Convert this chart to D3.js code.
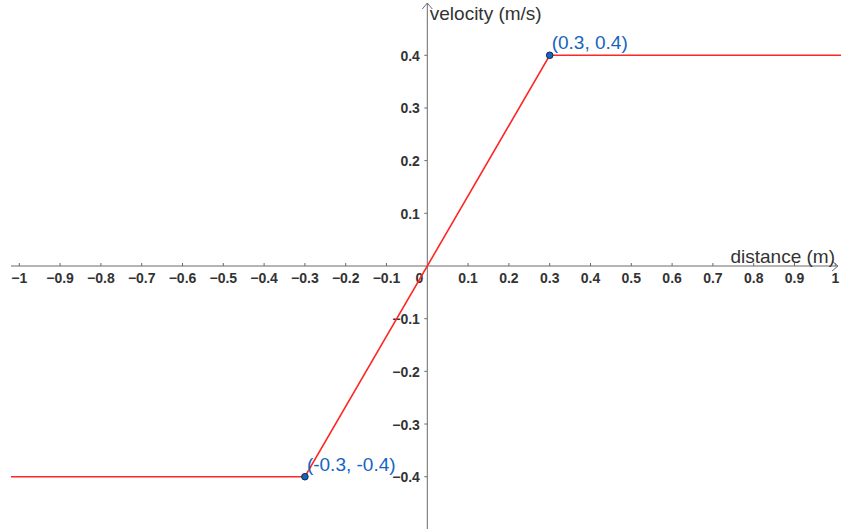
<!DOCTYPE html>
<html>
<head>
<meta charset="utf-8">
<script src="https://cdn.jsdelivr.net/npm/d3@7"></script>
<style>
  html, body { margin: 0; padding: 0; background: #fff; }
  svg { display: block; }
</style>
</head>
<body>
<svg id="chart" width="841" height="529"></svg>
<script>
// Piecewise velocity profile: constant, linear ramp, constant
const distance = [-1.05, -0.3, 0.3, 1.05];
const velocity = [-0.4, -0.4, 0.4, 0.4];

// Highlighted corner points and their labels
const pointX = [0.3, -0.3];
const pointY = [0.4, -0.4];
const pointLabels = ["(0.3, 0.4)", "(-0.3, -0.4)"];

const xTicks = [-1, -0.9, -0.8, -0.7, -0.6, -0.5, -0.4, -0.3, -0.2, -0.1, 0.1, 0.2, 0.3, 0.4, 0.5, 0.6, 0.7, 0.8, 0.9, 1];
const yTicks = [-0.4, -0.3, -0.2, -0.1, 0.1, 0.2, 0.3, 0.4];

const xTitle = "distance (m)";
const yTitle = "velocity (m/s)";

const W = 841, H = 529;
const svg = d3.select("#chart");

const x = d3.scaleLinear().domain([-1, 1]).range([19.3, 835.3]);
const y = d3.scaleLinear().domain([-0.4, 0.4]).range([476.7, 55.3]);

const x0 = x(0), y0 = y(0);
const axisColor = "#6b6b6b";
const textColor = "#333333";
const font = "Liberation Sans, Arial, sans-serif";
const tickSize = 14;
const titleSize = 19;
const fmt = v => (v < 0 ? "\u2212" : "") + d3.format(".1~f")(Math.abs(v));

// clip region for the plotted line
svg.append("defs").append("clipPath").attr("id", "plotClip")
  .append("rect").attr("x", 11).attr("y", 0).attr("width", W - 11).attr("height", H);

// x axis
const gx = svg.append("g");
gx.append("line").attr("x1", 11).attr("x2", W - 3).attr("y1", y0).attr("y2", y0)
  .attr("stroke", axisColor).attr("stroke-width", 1);
gx.append("path")
  .attr("d", `M${W - 9},${y0 - 5} L${W - 3},${y0} L${W - 9},${y0 + 5}`)
  .attr("fill", "none").attr("stroke", axisColor).attr("stroke-width", 1);
gx.selectAll("line.tick").data(xTicks).join("line").attr("class", "tick")
  .attr("x1", d => x(d)).attr("x2", d => x(d))
  .attr("y1", y0 - 3).attr("y2", y0)
  .attr("stroke", axisColor).attr("stroke-width", 1);
gx.selectAll("text").data(xTicks).join("text")
  .attr("x", d => x(d)).attr("y", y0 + 17)
  .attr("text-anchor", "middle")
  .attr("font-family", font)
  .attr("font-weight", "bold").attr("font-size", tickSize)
  .attr("fill", textColor)
  .text(fmt);
// origin label
svg.append("text").attr("x", x0 - 4).attr("y", y0 + 17)
  .attr("text-anchor", "end")
  .attr("font-family", font)
  .attr("font-weight", "bold").attr("font-size", tickSize)
  .attr("fill", textColor).text("0");

// y axis
const gy = svg.append("g");
gy.append("line").attr("x1", x0).attr("x2", x0).attr("y1", 3).attr("y2", H)
  .attr("stroke", axisColor).attr("stroke-width", 1);
gy.append("path")
  .attr("d", `M${x0 - 5},${9} L${x0},${3} L${x0 + 5},${9}`)
  .attr("fill", "none").attr("stroke", axisColor).attr("stroke-width", 1);
gy.selectAll("line.tick").data(yTicks).join("line").attr("class", "tick")
  .attr("x1", x0 - 3).attr("x2", x0)
  .attr("y1", d => y(d)).attr("y2", d => y(d))
  .attr("stroke", axisColor).attr("stroke-width", 1);
gy.selectAll("text").data(yTicks).join("text")
  .attr("x", x0 - 7.4).attr("y", d => y(d) + 5.5)
  .attr("text-anchor", "end")
  .attr("font-family", font)
  .attr("font-weight", "bold").attr("font-size", tickSize)
  .attr("fill", textColor)
  .text(fmt);

// axis titles
svg.append("text").attr("x", 835).attr("y", y0 - 3.5)
  .attr("text-anchor", "end")
  .attr("font-family", font)
  .attr("font-size", titleSize).attr("fill", textColor).text(xTitle);
svg.append("text").attr("x", x0 + 2.5).attr("y", 20)
  .attr("font-family", font)
  .attr("font-size", titleSize).attr("fill", textColor).text(yTitle);

// velocity profile
const line = d3.line().x(d => x(d)).y((d, i) => y(velocity[i]));
svg.append("path").datum(distance)
  .attr("clip-path", "url(#plotClip)")
  .attr("d", line)
  .attr("fill", "none").attr("stroke", "#ff2626").attr("stroke-width", 1.6);

// corner points
const pts = pointX.map((px, i) => ({ x: px, y: pointY[i], label: pointLabels[i] }));
svg.selectAll("circle.pt").data(pts).join("circle").attr("class", "pt")
  .attr("cx", d => x(d.x)).attr("cy", d => y(d.y)).attr("r", 3.3)
  .attr("fill", "#1565c0").attr("stroke", "#0d2a4e").attr("stroke-width", 1);
svg.selectAll("text.pt").data(pts).join("text").attr("class", "pt")
  .attr("x", d => x(d.x) + 2).attr("y", d => y(d.y) - 6)
  .attr("font-family", font)
  .attr("font-size", titleSize).attr("fill", "#1565c0")
  .text(d => d.label);
</script>
</body>
</html>
